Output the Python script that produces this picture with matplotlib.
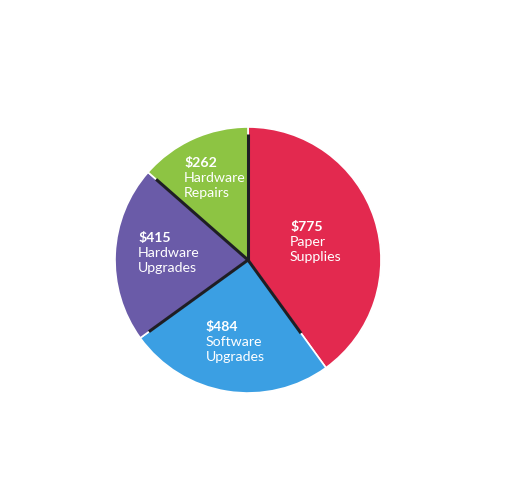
import numpy as np
import matplotlib
matplotlib.use("Agg")
import matplotlib.pyplot as plt

# data
categories = [["Paper", "Supplies"], ["Software", "Upgrades"], ["Hardware", "Upgrades"], ["Hardware", "Repairs"]]
amounts = [775, 484, 415, 262]
colors = ["#E3294F", "#3B9FE3", "#6A5BA8", "#8DC443"]

# layout: left edge / baseline of the first label line, in radius units
labelPos = [(0.316, 0.218), (-0.316, -0.534), (-0.827, 0.135), (-0.481, 0.699)]
lineStep = 0.113
# how far the dark separator runs out from the centre (start edge of each wedge)
sepLen = [0.95, 0.68, 0.92, 0.92]

W, H = 511, 488
cx, cy, r = 248, 260, 133

plt.rcParams["font.family"] = ["Lato", "DejaVu Sans"]
fig = plt.figure(figsize=(W / 100, H / 100), dpi=100)
ax = fig.add_axes([0, 0, 1, 1])

wedges, _ = ax.pie(amounts, colors=colors, startangle=90, counterclock=False, radius=1,
                   wedgeprops=dict(edgecolor="white", linewidth=1.2))
ax.set_xlim(-cx / r, (W - cx) / r)
ax.set_ylim(-(H - cy) / r, cy / r)
ax.set_aspect("auto")
ax.set_axis_off()

# dark separators from the centre
for w, L in zip(wedges, sepLen):
    a = np.deg2rad(w.theta2)
    ax.plot([0, L * np.cos(a)], [0, L * np.sin(a)], color="#1e1e24", lw=2.2, solid_capstyle="butt", zorder=3)

for (x, y), amt, words in zip(labelPos, amounts, categories):
    ax.text(x, y, f"${amt}", color="white", fontsize=10.2, fontweight="bold", ha="left", va="baseline", zorder=4)
    for i, wd in enumerate(words):
        ax.text(x, y - (i + 1) * lineStep, wd, color="white", fontsize=10.2, ha="left", va="baseline", zorder=4)

fig.savefig("out.png", dpi=100, facecolor="white")
